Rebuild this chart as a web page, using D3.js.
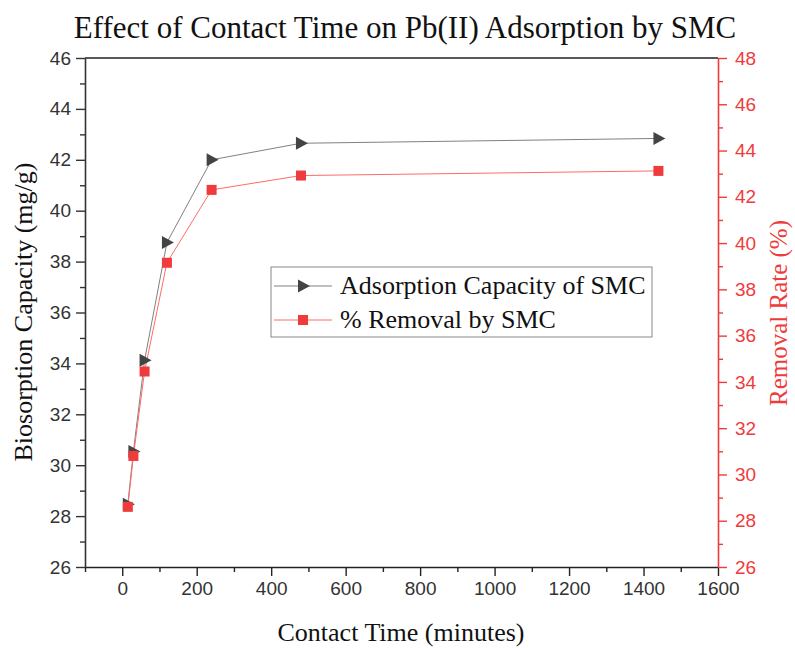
<!DOCTYPE html>
<html><head><meta charset="utf-8">
<script src="https://cdn.jsdelivr.net/npm/d3@7"></script>
<style>body{margin:0;background:#fff}svg{display:block}</style>
</head><body>
<svg id="chart" width="795" height="648"></svg>
<script>
const times = [15, 30, 60, 120, 240, 480, 1440];
const capacity = [28.47, 30.54, 34.12, 38.75, 42.0, 42.65, 42.84];
const removal = [28.6, 30.8, 34.45, 39.15, 42.3, 42.92, 43.12];
const xTicks = [0, 200, 400, 600, 800, 1000, 1200, 1400, 1600];
const yLeftTicks = [26, 28, 30, 32, 34, 36, 38, 40, 42, 44, 46];
const yRightTicks = [26, 28, 30, 32, 34, 36, 38, 40, 42, 44, 46, 48];
const title = "Effect of Contact Time on Pb(II) Adsorption by SMC";
const xLabel = "Contact Time (minutes)";
const yLeftLabel = "Biosorption Capacity (mg/g)";
const yRightLabel = "Removal Rate (%)";
const legendLabels = ["Adsorption Capacity of SMC", "% Removal by SMC"];

const L = 85, R = 718, T = 58, B = 567;
const svg = d3.select("#chart");
const x = d3.scaleLinear().domain([-100, 1600]).range([L, R]);
const yL = d3.scaleLinear().domain([26, 46]).range([B, T]);
const yR = d3.scaleLinear().domain([26, 48]).range([B, T]);

const dark = "#444", red = "#ef3b3b";
const sans = "'Liberation Sans', Arial, sans-serif";
const serif = "'Liberation Serif', 'Times New Roman', serif";
const tickFs = 19;

// top border
svg.append("line").attr("x1", L).attr("x2", R).attr("y1", T).attr("y2", T)
  .attr("stroke", "#222").attr("stroke-width", 1.5);

function styleAxis(g, color, fs) {
  g.select(".domain").attr("stroke", color).attr("stroke-width", 1.6);
  g.selectAll(".tick line").attr("stroke", color).attr("stroke-width", 1.4);
  g.selectAll(".tick text").attr("fill", color).style("font-family", sans).style("font-size", fs + "px");
}

// bottom axis
const xMinor = d3.range(-100, 1600, 200);
svg.append("g").attr("transform", `translate(0,${B})`)
  .call(d3.axisBottom(x).tickValues(xMinor).tickSize(5).tickFormat(""))
  .call(g => { g.select(".domain").remove(); g.selectAll(".tick line").attr("stroke", "#222").attr("stroke-width", 1.4); });
const gx = svg.append("g").attr("transform", `translate(0,${B})`)
  .call(d3.axisBottom(x).tickValues(xTicks).tickFormat(d3.format("d")).tickSize(9).tickSizeOuter(0).tickPadding(6));
styleAxis(gx, "#222", tickFs);
gx.selectAll(".tick text").attr("fill", "#333");

// left axis
const yLMinor = d3.range(27, 46, 2);
svg.append("g").attr("transform", `translate(${L},0)`)
  .call(d3.axisLeft(yL).tickValues(yLMinor).tickSize(5).tickFormat(""))
  .call(g => { g.select(".domain").remove(); g.selectAll(".tick line").attr("stroke", "#333").attr("stroke-width", 1.4); });
const gyl = svg.append("g").attr("transform", `translate(${L},0)`)
  .call(d3.axisLeft(yL).tickValues(yLeftTicks).tickSize(9).tickSizeOuter(0).tickPadding(5));
styleAxis(gyl, "#333", tickFs);

// right axis
const yRMinor = d3.range(27, 48, 2);
svg.append("g").attr("transform", `translate(${R},0)`)
  .call(d3.axisRight(yR).tickValues(yRMinor).tickSize(5).tickFormat(""))
  .call(g => { g.select(".domain").remove(); g.selectAll(".tick line").attr("stroke", red).attr("stroke-width", 1.4); });
const gyr = svg.append("g").attr("transform", `translate(${R},0)`)
  .call(d3.axisRight(yR).tickValues(yRightTicks).tickSize(9).tickSizeOuter(0).tickPadding(8));
styleAxis(gyr, red, tickFs);

// data
const capData = times.map((t, i) => ({ t, v: capacity[i] }));
const remData = times.map((t, i) => ({ t, v: removal[i] }));

svg.append("path").datum(capData)
  .attr("d", d3.line().x(d => x(d.t)).y(d => yL(d.v)))
  .attr("fill", "none").attr("stroke", "#808080").attr("stroke-width", 1);
svg.append("path").datum(remData)
  .attr("d", d3.line().x(d => x(d.t)).y(d => yR(d.v)))
  .attr("fill", "none").attr("stroke", "#ff6b6b").attr("stroke-width", 1);

const tri = "M-5,-6.5L7,0L-5,6.5Z";
svg.append("g").selectAll("path").data(capData).join("path")
  .attr("d", tri).attr("fill", dark)
  .attr("transform", d => `translate(${x(d.t)},${yL(d.v)})`);
svg.append("g").selectAll("rect").data(remData).join("rect")
  .attr("x", d => x(d.t) - 5).attr("y", d => yR(d.v) - 5)
  .attr("width", 10).attr("height", 10).attr("fill", red);

// titles
svg.append("text").attr("x", 405).attr("y", 38).attr("text-anchor", "middle")
  .style("font-family", serif).style("font-size", "31px").attr("fill", "#111").text(title);
svg.append("text").attr("x", 401).attr("y", 641).attr("text-anchor", "middle")
  .style("font-family", serif).style("font-size", "26px").attr("fill", "#111").text(xLabel);
svg.append("text").attr("transform", "translate(32,312) rotate(-90)").attr("text-anchor", "middle")
  .style("font-family", serif).style("font-size", "26px").attr("fill", "#111").text(yLeftLabel);
svg.append("text").attr("transform", "translate(787,313) rotate(-90)").attr("text-anchor", "middle")
  .style("font-family", serif).style("font-size", "25px").attr("fill", red).text(yRightLabel);

// legend
const lg = svg.append("g");
lg.append("rect").attr("x", 271).attr("y", 267).attr("width", 381).attr("height", 70)
  .attr("fill", "#fff").attr("stroke", "#888").attr("stroke-width", 1);
const rows = [
  { y: 286, stroke: "#808080", label: legendLabels[0], type: "tri" },
  { y: 320, stroke: "#ff6b6b", label: legendLabels[1], type: "sq" }
];
rows.forEach(r => {
  lg.append("line").attr("x1", 274).attr("x2", 332).attr("y1", r.y).attr("y2", r.y)
    .attr("stroke", r.stroke).attr("stroke-width", 1);
  if (r.type === "tri") lg.append("path").attr("d", tri).attr("fill", dark).attr("transform", `translate(303,${r.y})`);
  else lg.append("rect").attr("x", 298).attr("y", r.y - 5).attr("width", 10).attr("height", 10).attr("fill", red);
  lg.append("text").attr("x", 340).attr("y", r.y + 8).style("font-family", serif).style("font-size", "26px")
    .attr("fill", "#111").text(r.label);
});
</script>
</body></html>
